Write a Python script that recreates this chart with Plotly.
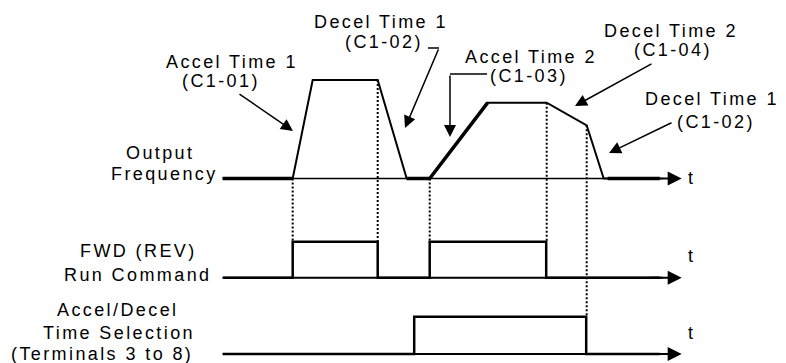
import plotly.graph_objects as go

W, H = 786, 363

# timing data (time in arbitrary units, frequency in % of max)
freq_t = [0, 7.0, 9.0, 15.5, 18.4, 20.7, 26.5, 32.4, 36.4, 38.1, 43.7]
freq_pct = [0, 0, 100, 100, 0, 0, 77, 77, 54, 0, 0]

run_t = [0, 7.0, 7.0, 15.5, 15.5, 20.7, 20.7, 32.35, 32.35, 43.7]
run_on = [0, 0, 1, 1, 0, 0, 1, 1, 0, 0]

sel_t = [0, 19.15, 19.15, 36.35, 36.35, 43.7]
sel_on = [0, 0, 1, 1, 0, 0]

# stretches where output frequency sits at zero / accel 2 ramp (drawn heavy)
heavy_t = [(0, 7.0), (18.4, 26.5), (38.5, 43.7)]

# dotted guides: time, (signal, level) top, (signal, level) bottom
guides = [
    (7.0, ("freq", 0), ("run", 1)),
    (15.5, ("freq", 100), ("run", 1)),
    (20.7, ("freq", 0), ("run", 1)),
    (32.4, ("freq", 77), ("run", 1)),
    (36.4, ("freq", 54), ("sel", 1)),
]

t_end = 45.9  # arrow tip of each time axis

# track placement: baseline pixel row, pixels per unit
tracks = {"freq": (178.5, 0.985), "run": (277.7, 36.0), "sel": (354.0, 37.3)}


def ty(track, v):
    base, k = tracks[track]
    return base - v * k


def lvl(track, vals):
    return [ty(track, v) for v in vals]


def interp(t, ts, vs):
    for i in range(len(ts) - 1):
        if ts[i] <= t <= ts[i + 1]:
            if ts[i + 1] == ts[i]:
                return vs[i]
            f = (t - ts[i]) / (ts[i + 1] - ts[i])
            return vs[i] + f * (vs[i + 1] - vs[i])
    return vs[-1]


fig = go.Figure()

# frequency time axis
fig.add_trace(go.Scatter(x=[0, 44], y=[ty("freq", 0)] * 2, mode="lines",
                         line=dict(color="black", width=1.5)))

fig.add_trace(go.Scatter(x=freq_t, y=lvl("freq", freq_pct), mode="lines",
                         line=dict(color="black", width=2)))
for a, b in heavy_t:
    xs = [a] + [t for t in freq_t if a < t < b] + [b]
    ys = [ty("freq", interp(t, freq_t, freq_pct)) for t in xs]
    fig.add_trace(go.Scatter(x=xs, y=ys, mode="lines",
                             line=dict(color="black", width=3.5)))

fig.add_trace(go.Scatter(x=run_t, y=lvl("run", run_on), mode="lines",
                         line=dict(color="black", width=2.5)))
fig.add_trace(go.Scatter(x=[0, 44], y=[ty("run", 0)] * 2, mode="lines",
                         line=dict(color="black", width=2)))
fig.add_trace(go.Scatter(x=sel_t, y=lvl("sel", sel_on), mode="lines",
                         line=dict(color="black", width=2.5)))
fig.add_trace(go.Scatter(x=[0, 44], y=[ty("sel", 0)] * 2, mode="lines",
                         line=dict(color="black", width=2)))

for t, (s0, v0), (s1, v1) in guides:
    fig.add_trace(go.Scatter(x=[t, t], y=[ty(s0, v0), ty(s1, v1)], mode="lines",
                             line=dict(color="black", width=2, dash="2px,2px")))

FONT = dict(family="Liberation Sans, Arial, sans-serif", size=18, color="black")


def sp(s):
    return '<span style="letter-spacing:2.4px">' + s + "</span>"


def px(x):
    return x / W


def py(y):
    return 1 - y / H


# time axis arrow heads and "t"
for tr, lab_y in [("freq", 178), ("run", 268), ("sel", 345)]:
    fig.add_annotation(x=t_end, y=ty(tr, 0), ax=42.5, ay=ty(tr, 0), xref="x", yref="y",
                       axref="x", ayref="y", text="", showarrow=True, arrowhead=2,
                       arrowsize=1.4, arrowwidth=2, arrowcolor="black", standoff=0)
    fig.add_annotation(x=px(695), y=py(lab_y), xref="paper", yref="paper", text="t",
                       showarrow=False, font=FONT)

labels = [
    ("Accel Time 1", 232, 62), ("(C1-01)", 221, 81),
    ("Decel Time 1", 381, 22), ("(C1-02)", 384, 42),
    ("Accel Time 2", 531, 57), ("(C1-03)", 529, 76),
    ("Decel Time 2", 671, 31), ("(C1-04)", 673, 50),
    ("Decel Time 1", 712, 99), ("(C1-02)", 716, 122),
    ("Output", 160, 153), ("Frequency", 164, 174),
    ("FWD (REV)", 138, 251), ("Run Command", 137, 275),
    ("Accel/Decel", 117, 310), ("Time Selection", 119, 333),
    ("(Terminals 3 to 8)", 102, 354),
]
for txt, x, y in labels:
    fig.add_annotation(x=px(x), y=py(y), xref="paper", yref="paper", text=sp(txt),
                       showarrow=False, font=FONT, xanchor="center", yanchor="middle")

# pointer arrows: (tip x, tip y, tail x, tail y) in pixels
pointers = [(293, 131, 238, 93), (405, 128, 439, 48), (450, 137, 450, 74),
            (575, 106, 653, 63), (609, 153, 673, 122)]
for x, y, x0, y0 in pointers:
    fig.add_annotation(x=px(x), y=py(y), xref="paper", yref="paper", text="",
                       showarrow=True, ax=x0 - x, ay=y0 - y, arrowhead=2, arrowsize=1.6,
                       arrowwidth=1.5, arrowcolor="black", standoff=0)

# bracket stubs feeding the pointer arrows
for x0, y0, x1, y1 in [(428, 48, 439, 48), (450, 74, 487, 74)]:
    fig.add_shape(type="line", xref="paper", yref="paper", x0=px(x0), y0=py(y0),
                  x1=px(x1), y1=py(y1), line=dict(color="black", width=1.5))

fig.update_layout(
    width=W, height=H, margin=dict(l=0, r=0, t=0, b=0),
    paper_bgcolor="white", plot_bgcolor="white", showlegend=False,
    xaxis=dict(range=[-22.27, 56.33], visible=False, fixedrange=True),
    yaxis=dict(range=[H, 0], visible=False, fixedrange=True),
)

fig.write_html("out.html", config={"displayModeBar": False},
               post_script="document.body.style.margin='0';")
